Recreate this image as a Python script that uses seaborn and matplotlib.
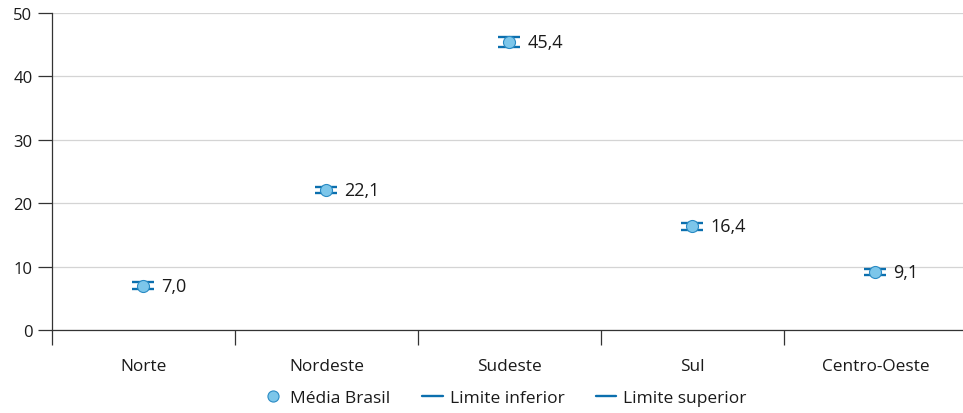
import matplotlib
matplotlib.use("Agg")
import matplotlib.pyplot as plt
from matplotlib.lines import Line2D
import seaborn as sns
import pandas as pd

regioes = ["Norte", "Nordeste", "Sudeste", "Sul", "Centro-Oeste"]
media = [7.0, 22.1, 45.4, 16.4, 9.1]
limite_inferior = [6.4, 21.6, 44.6, 15.8, 8.6]
limite_superior = [7.5, 22.5, 46.2, 16.9, 9.6]
rotulos = ["7,0", "22,1", "45,4", "16,4", "9,1"]
yticks = [0, 10, 20, 30, 40, 50]

df = pd.DataFrame({"regiao": regioes, "media": media,
                   "inf": limite_inferior, "sup": limite_superior})

sns.set_style("white")
plt.rcParams["font.family"] = ["Open Sans", "DejaVu Sans"]

azul_linha = "#0b6fae"
azul_face = "#7cc6ea"
azul_borda = "#2a8bc4"
texto = "#1a1a1a"

fig = plt.figure(figsize=(9.63, 4.14), dpi=100)
ax = fig.add_axes([0.054, 0.2005, 0.950, 0.7655])

# limits drawn as short horizontal dashes
sns.scatterplot(data=df, x="regiao", y="inf", marker="_", s=250,
                color=azul_linha, linewidth=1.7, ax=ax, zorder=3, legend=False)
sns.scatterplot(data=df, x="regiao", y="sup", marker="_", s=250,
                color=azul_linha, linewidth=1.7, ax=ax, zorder=3, legend=False)
# mean points
sns.scatterplot(data=df, x="regiao", y="media", marker="o", s=75,
                color=azul_face, edgecolor=azul_borda, linewidth=0.8,
                ax=ax, zorder=4, legend=False)

for i, (v, lab) in enumerate(zip(media, rotulos)):
    ax.annotate(lab, (i, v), xytext=(13, 0), textcoords="offset points",
                ha="left", va="center", fontsize=13, color=texto)

ax.set_xlim(-0.5, 4.5)
ax.set_ylim(0, 50)
ax.set_yticks(yticks)
ax.set_yticklabels([str(t) for t in yticks], fontsize=12, color=texto)
ax.set_xticks(range(len(regioes)))
ax.set_xticklabels(regioes, fontsize=12.4, color=texto)
ax.set_xticks([-0.5, 0.5, 1.5, 2.5, 3.5], minor=True)
ax.tick_params(axis="x", which="major", bottom=True, length=0, pad=20)
ax.tick_params(axis="x", which="minor", bottom=True, length=11, width=0.9,
               color="#333333", direction="out")
ax.tick_params(axis="y", left=True, length=10, width=0.9, color="#333333",
               direction="out", pad=4)
ax.set_xlabel("")
ax.set_ylabel("")

ax.yaxis.grid(True, color="#d4d4d4", linewidth=0.9)
ax.set_axisbelow(True)
for s in ["top", "right"]:
    ax.spines[s].set_visible(False)
for s in ["left", "bottom"]:
    ax.spines[s].set_color("#333333")
    ax.spines[s].set_linewidth(0.9)

handles = [
    Line2D([], [], marker="o", linestyle="none", markersize=8,
           markerfacecolor=azul_face, markeredgecolor=azul_borda,
           markeredgewidth=0.8),
    Line2D([], [], color=azul_linha, linewidth=1.7),
    Line2D([], [], color=azul_linha, linewidth=1.7),
]
fig.legend(handles, ["Média Brasil", "Limite inferior", "Limite superior"],
           loc="center", bbox_to_anchor=(0.524, 0.036), ncol=3,
           frameon=False, fontsize=12.5, handlelength=1.2,
           handletextpad=0.4, columnspacing=1.8, labelcolor=texto)

fig.savefig("out.png", dpi=100)
